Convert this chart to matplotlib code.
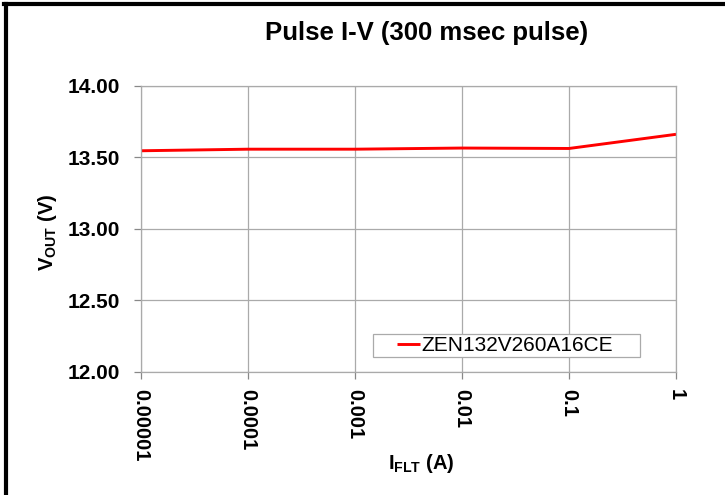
import matplotlib.pyplot as plt
from matplotlib.lines import Line2D
from matplotlib.patches import Rectangle

plt.rcParams['font.family'] = 'Liberation Sans'
plt.rcParams['mathtext.fontset'] = 'custom'
plt.rcParams['mathtext.rm'] = 'Liberation Sans:bold'
plt.rcParams['mathtext.bf'] = 'Liberation Sans:bold'
plt.rcParams['mathtext.it'] = 'Liberation Sans:bold'

# data
i_flt = [0.00001, 0.0001, 0.001, 0.01, 0.1, 1]
v_out = [13.547, 13.558, 13.558, 13.566, 13.563, 13.662]
x_labels = ['0.00001', '0.0001', '0.001', '0.01', '0.1', '1']
y_ticks = [12.0, 12.5, 13.0, 13.5, 14.0]

fig = plt.figure(figsize=(7.25, 4.95), dpi=100)
ax = fig.add_axes([0.1945, 0.2485, 0.7379, 0.5778])

ax.plot(i_flt, v_out, color='#ff0000', lw=2.1, label='ZEN132V260A16CE', solid_capstyle='butt')
ax.set_xscale('log')
ax.set_xlim(1e-5, 1)
ax.set_ylim(12, 14)
ax.set_xticks(i_flt)
ax.set_xticklabels(x_labels, rotation=270, fontsize=14.5, fontweight='bold', va='top', ha='center')
ax.minorticks_off()
ax.set_yticks(y_ticks)
ax.set_yticklabels(['%.2f' % v for v in y_ticks], fontsize=15, fontweight='bold')

ax.grid(True, color='#aaaaaa', lw=0.9)
for s in ax.spines.values():
    s.set_color('#aaaaaa')
    s.set_linewidth(0.9)
ax.tick_params(axis='y', color='#888888', length=5, width=0.9, pad=10)
ax.tick_params(axis='x', color='#888888', length=5, width=0.9, pad=7)

# legend box drawn by hand, wider than the default frame
ax.add_patch(Rectangle((0.434, 0.052), 0.499, 0.081, transform=ax.transAxes,
                       facecolor='white', edgecolor='#aaaaaa', lw=0.9, zorder=4))
leg = ax.legend(loc='center left', bbox_to_anchor=(0.478, 0.093), fontsize=15,
                frameon=False, handlelength=1.1, handletextpad=0.1,
                borderpad=0, borderaxespad=0)
leg.set_zorder(5)

fig.text(0.588, 0.933, 'Pulse I-V (300 msec pulse)', ha='center', va='center',
         fontsize=18.5, fontweight='bold')
fig.text(0.065, 0.531, r'$\mathbf{V_{OUT}}$ (V)', rotation=90, ha='center', va='center',
         fontsize=14.5, fontweight='bold')
fig.text(0.581, 0.064, r'$\mathbf{I_{FLT}}$ (A)', ha='center', va='center',
         fontsize=14.5, fontweight='bold')

# frame lines at the left and top edge of the picture
fig.add_artist(Line2D([0.008, 0.008], [0, 0.992], color='black', lw=3, transform=fig.transFigure))
fig.add_artist(Line2D([0.006, 1], [0.992, 0.992], color='black', lw=3, transform=fig.transFigure))

fig.savefig('out.png', dpi=100)
